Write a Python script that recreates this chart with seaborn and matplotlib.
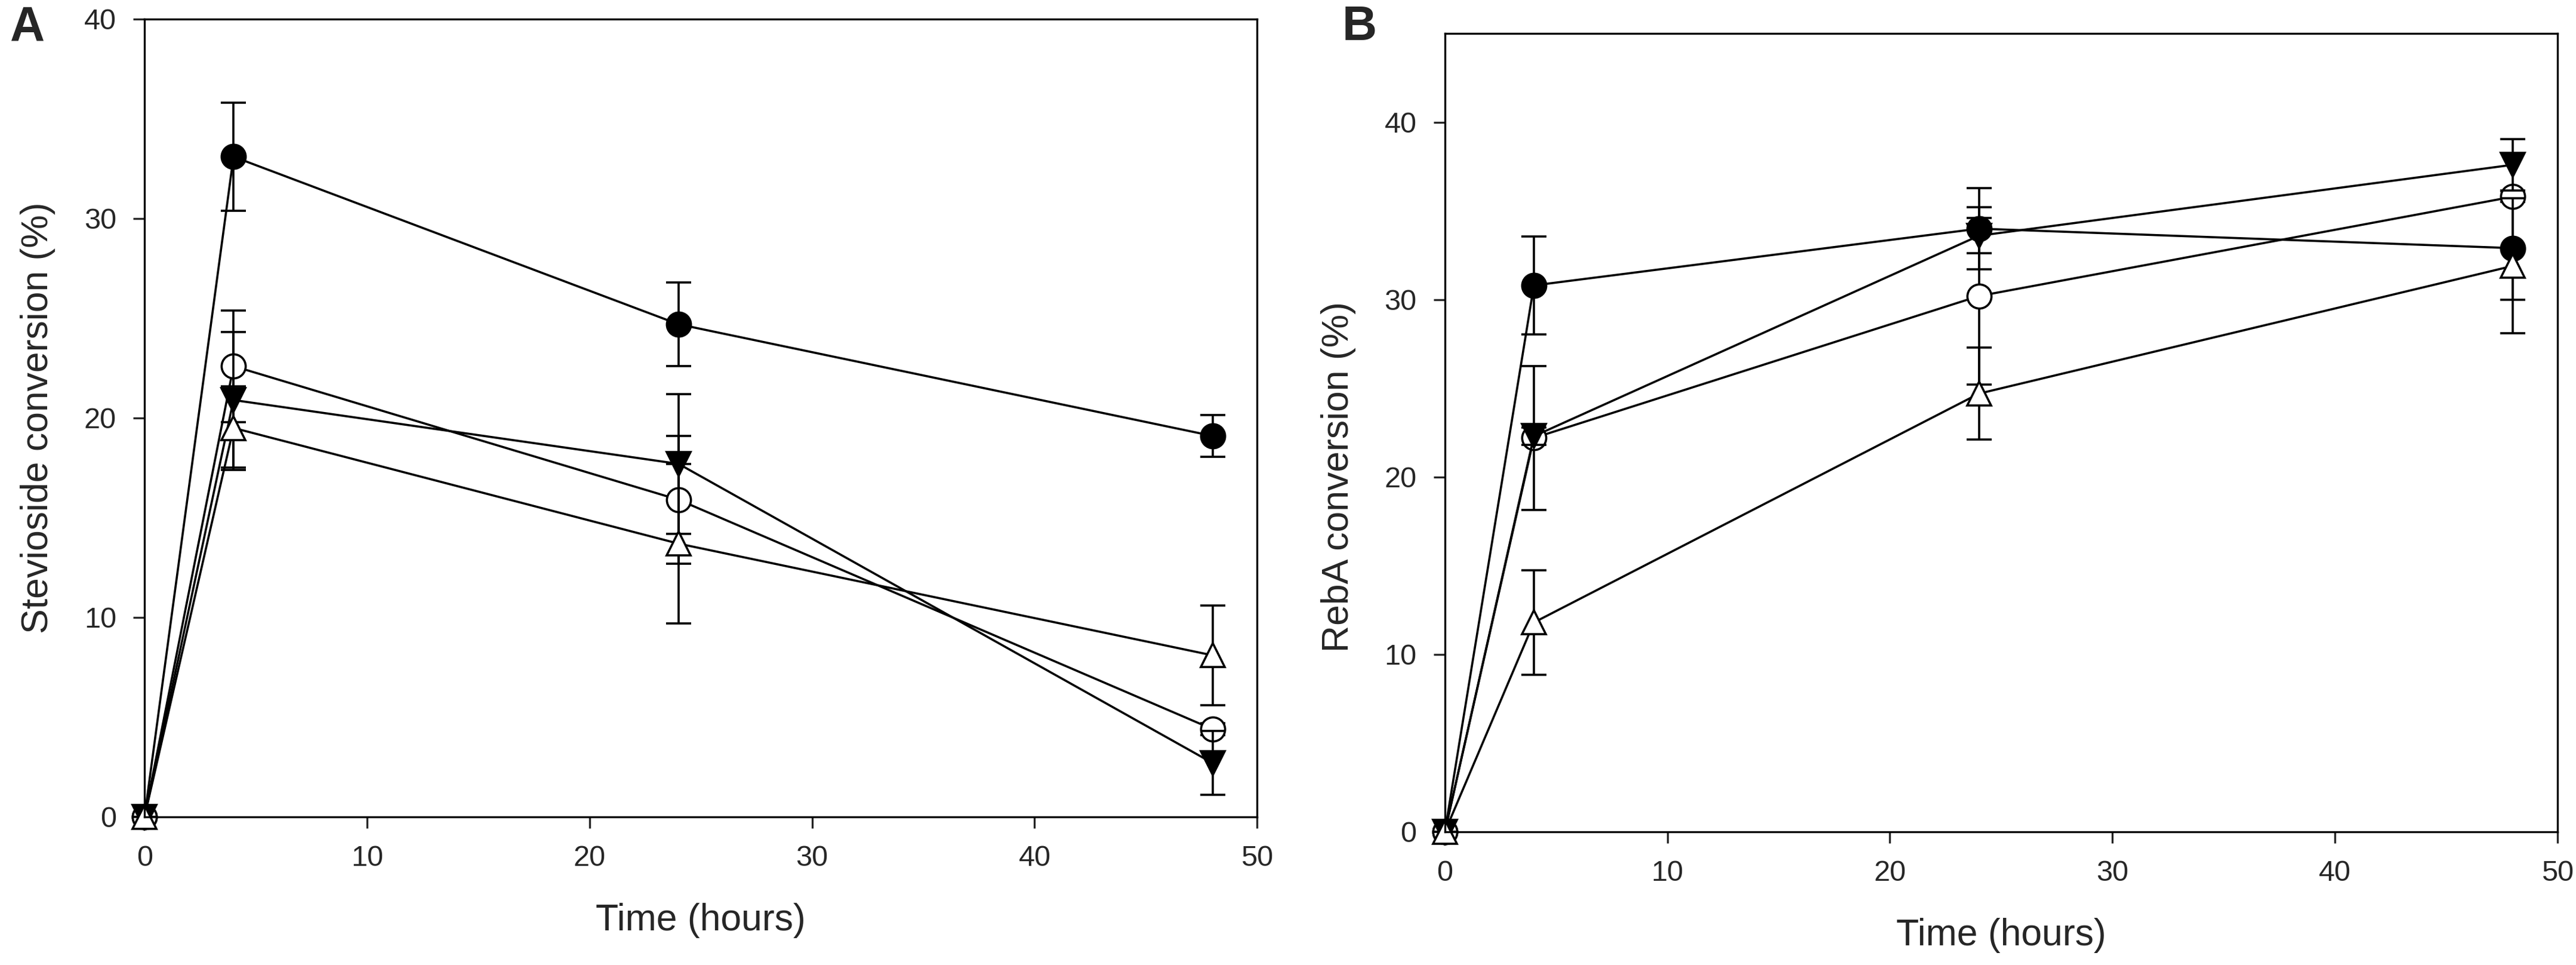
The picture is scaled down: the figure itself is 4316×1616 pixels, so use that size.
import matplotlib
matplotlib.use("Agg")
import matplotlib.pyplot as plt
import seaborn as sns
import pandas as pd

# Sampling times (hours)
times = [0, 4, 24, 48]

# Panel A: stevioside conversion (%)
a_filled_circle = [0, 33.1, 24.7, 19.1]
a_filled_circle_err = [0, 2.7, 2.1, 1.05]
a_open_circle = [0, 22.6, 15.9, 4.4]
a_open_circle_err = [0, 2.8, 3.2, 0.3]
a_down_triangle = [0, 20.9, 17.7, 2.7]
a_down_triangle_err = [0, 3.4, 3.5, 1.6]
a_open_triangle = [0, 19.5, 13.7, 8.1]
a_open_triangle_err = [0, 2.1, 4.0, 2.5]

# Panel B: RebA conversion (%)
b_filled_circle = [0, 30.8, 34.0, 32.9]
b_filled_circle_err = [0, 2.75, 2.3, 2.9]
b_open_circle = [0, 22.2, 30.2, 35.8]
b_open_circle_err = [0, 4.05, 5.0, 0.3]
b_down_triangle = [0, 22.3, 33.6, 37.6]
b_down_triangle_err = [0, 0.5, 1.0, 1.45]
b_open_triangle = [0, 11.8, 24.7, 31.9]
b_open_triangle_err = [0, 2.95, 2.6, 3.8]

sns.set_theme(style="ticks")
plt.rcParams["font.family"] = ["Liberation Sans", "DejaVu Sans"]

# marker, face colour per series
styles = [("o", "black"), ("o", "white"), ("v", "black"), ("^", "white")]


def draw_panel(ax, series, ylabel, ymax, label_y):
    # each series is drawn on top of the previous one (error bars, then line + markers)
    for i, ((vals, errs), (mk, face)) in enumerate(zip(series, styles)):
        df = pd.DataFrame({"time": times, "value": vals})
        ax.errorbar(times, vals, yerr=errs, fmt="none", ecolor="black",
                    elinewidth=2.6, capsize=15, capthick=2.6, zorder=2 + 2 * i,
                    clip_on=False)
        sns.lineplot(data=df, x="time", y="value", ax=ax, color="black",
                     linewidth=2.6, marker=mk, markersize=29,
                     markerfacecolor=face, markeredgecolor="black",
                     markeredgewidth=2.6, clip_on=False, zorder=3 + 2 * i)

    ax.set_xlim(0, 50)
    ax.set_ylim(0, ymax)
    ax.set_xticks(range(0, 51, 10))
    ax.set_yticks(range(0, 41, 10))
    ax.tick_params(direction="out", length=14, width=2.4, labelsize=35,
                   pad=20, top=False, right=False)
    for sp in ax.spines.values():
        sp.set_linewidth(2.4)
        sp.set_color("black")
        sp.set_zorder(20)
    ax.set_xlabel("Time (hours)", fontsize=45)
    ax.set_ylabel(ylabel, fontsize=45)
    ax.xaxis.set_label_coords(0.5, -0.108)
    ax.yaxis.set_label_coords(-0.080, label_y)


fig = plt.figure(figsize=(43.16, 16.16), dpi=100)
ax_a = fig.add_axes([0.0561, 0.1535, 0.4319, 0.8267])
ax_b = fig.add_axes([0.5609, 0.1380, 0.4319, 0.8273])

draw_panel(ax_a,
           [(a_filled_circle, a_filled_circle_err),
            (a_open_circle, a_open_circle_err),
            (a_down_triangle, a_down_triangle_err),
            (a_open_triangle, a_open_triangle_err)],
           "Stevioside conversion (%)", 40, 0.5)
draw_panel(ax_b,
           [(b_filled_circle, b_filled_circle_err),
            (b_open_circle, b_open_circle_err),
            (b_down_triangle, b_down_triangle_err),
            (b_open_triangle, b_open_triangle_err)],
           "RebA conversion (%)", 45, 20 / 45)

fig.text(0.004, 0.995, "A", fontsize=58, fontweight="bold", va="top", ha="left")
fig.text(0.521, 0.995, "B", fontsize=58, fontweight="bold", va="top", ha="left")

fig.savefig("out.png", dpi=100)
